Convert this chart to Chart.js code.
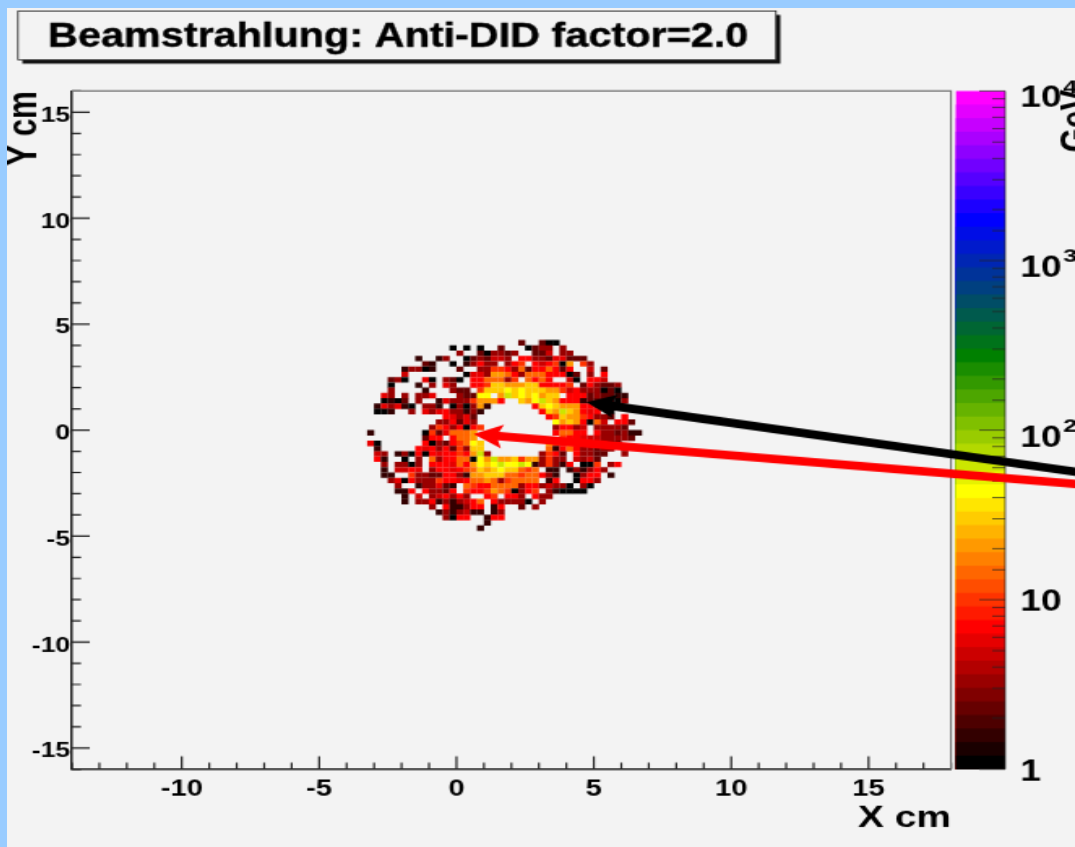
<!DOCTYPE html>
<html>
<head>
<meta charset="utf-8">
<script src="https://cdn.jsdelivr.net/npm/chart.js@4/dist/chart.umd.js"></script>
<style>
  html, body { margin: 0; padding: 0; background: #99ccff; overflow: hidden; }
  /* the source picture is a stretched screenshot, so the canvas is stretched too */
  #lego { position: absolute; left: 7px; top: 8px; width: 1068px !important; height: 839px !important; background: #f3f3f3; }
</style>
</head>
<body>
<canvas id="lego" width="658" height="671"></canvas>
<script>
  // 0.25 cm bins, one string per row from top to bottom, '.' is an empty bin
  const binSize = 0.25;
  const firstRow = 16;
  const firstCol = -13;
  const levelChars = '0123456789ABC';
  const levelValues = [1.05, 1.45, 2.3, 3.3, 4.6, 5.5, 6.9, 10, 14.5, 21, 29, 41, 68];
  const cellRows = [
    '......................2..200',
    '............0.0.0..2...0233.3',
    '.............3..203323..224.33',
    '.......1..13..0232443.6633255222',
    '........21..0.13633.367.646709.73',
    '.....13301...2..33776382668626..4.2',
    '.....4........05539986388866602.3.6',
    '...230..50.320.6688837.8686..40.664',
    '...0...1.3.53..667AA999AA66667.263223',
    '...3....1...322.7AAABABAAA99746333020',
    '..53.3.335...322BB.9CABAB9AA.666232211',
    '..0102.3..1533379996..A9BCA96661222103',
    '.153510.331.030391......6ABA999665432',
    '.001..3.535633131........6A9CA9656.0',
    '...........65352..........67A9976332.6',
    '..........336253...........B9A96084.662',
    '.........37636067..........36634.33332',
    '1.......07258889...........68866.6332311',
    '........266.6889............76654433332',
    '50......6032678BA.........97765433322',
    '.1.....65636273AA.........8168633233.3',
    '.43.130606566769C3.......3762.63322..3',
    '.61..0.3.8366880B9C99A7993733.4342',
    '..3.3303.6665869BABCBBCB137316.007.36',
    '..1.4465.3665678A9ABAA878.11.131363',
    '..11..73322663199AAA88788631..0366.1',
    '...3506333766568898378888.16..0663',
    '....3..133521.8766888836634330.30',
    '....116.63326.76679870367.310000',
    '.....1.4.346363..67.663.633',
    '.....1.3361313468.633330.3',
    '.........3.611366.16..2.3',
    '..........1313411.13',
    '...........3066..166',
    '.................1',
    '................1'
  ];

  const xRange = [-14, 18];
  const yRange = [-16, 16];
  const zRange = [1, 10000];
  const zPowers = [0, 1, 2, 3, 4];
  const zBands = 50;

  // ROOT rainbow palette: black, red, yellow, green, blue, magenta
  const paletteStops = [
    [0, 0, 0, 0], [10, 255, 0, 0], [20, 255, 255, 0],
    [30, 0, 128, 0], [40, 0, 0, 255], [49, 255, 0, 255]
  ];

  function corBanda(b) {
    let i = 0;
    while (i < paletteStops.length - 2 && b > paletteStops[i + 1][0]) i++;
    const p = paletteStops[i], q = paletteStops[i + 1];
    const t = Math.min(1, (b - p[0]) / (q[0] - p[0]));
    const c = [1, 2, 3].map(k => Math.round(p[k] + (q[k] - p[k]) * t));
    return 'rgb(' + c.join(',') + ')';
  }

  function corValor(v) {
    const b = Math.floor(Math.log10(v) / Math.log10(zRange[1]) * zBands);
    return corBanda(Math.max(0, Math.min(zBands - 1, b)));
  }

  // Monta os pontos a partir das linhas
  const cells = [];
  cellRows.forEach((row, i) => {
    Array.from(row).forEach((ch, j) => {
      if (ch === '.') return;
      cells.push({
        x: (firstCol + j + 0.5) * binSize,
        y: (firstRow - i + 0.5) * binSize,
        e: levelValues[levelChars.indexOf(ch)]
      });
    });
  });

  const FONT = '"Liberation Sans", Arimo, Helvetica, Arial, sans-serif';
  const INK = '#222';

  function desenhaSeta(ctx, x1, y1, x2, y2, color) {
    const a = Math.atan2(y2 - y1, x2 - x1);
    const len = Math.hypot(x2 - x1, y2 - y1);
    ctx.save();
    ctx.translate(x1, y1);
    ctx.rotate(a);
    ctx.fillStyle = color;
    ctx.beginPath();
    ctx.moveTo(0, 0);
    ctx.lineTo(18, -9.5);
    ctx.lineTo(15.5, -3.4);
    ctx.lineTo(len, -3.4);
    ctx.lineTo(len, 3.4);
    ctx.lineTo(15.5, 3.4);
    ctx.lineTo(18, 9.5);
    ctx.closePath();
    ctx.fill();
    ctx.restore();
  }

  const decoracao = {
    id: 'decoracao',
    afterDatasetsDraw(chart) {
      const { ctx, chartArea: area, scales } = chart;
      const { x, y, z } = scales;
      const barLeft = area.right + 3.1;
      const barRight = area.right + 33.4;

      // barra de cores, cada faixa pinta ate o fundo para nao deixar emenda
      for (let i = zBands - 1; i >= 0; i--) {
        const hi = Math.pow(10, (i + 1) * 4 / zBands);
        const top = z.getPixelForValue(hi);
        ctx.fillStyle = corBanda(i);
        ctx.fillRect(barLeft, top, barRight - barLeft, area.bottom - top);
      }

      ctx.strokeStyle = INK;
      ctx.lineWidth = 1.2;
      ctx.beginPath();
      x.ticks.forEach(t => {
        const px = x.getPixelForValue(t.value);
        ctx.moveTo(px, area.bottom);
        ctx.lineTo(px, area.bottom - (t.value % 5 === 0 ? 10.4 : 5.4));
      });
      y.ticks.forEach(t => {
        const py = y.getPixelForValue(t.value);
        ctx.moveTo(area.left, py);
        ctx.lineTo(area.left + (t.value % 5 === 0 ? 11 : 5.6), py);
      });
      ctx.stroke();

      ctx.lineWidth = 0.7;
      ctx.beginPath();
      z.ticks.forEach(t => {
        const py = z.getPixelForValue(t.value);
        const major = Number.isInteger(Math.log10(t.value));
        ctx.moveTo(barRight, py);
        ctx.lineTo(barRight - (major ? 16 : 8), py);
      });
      ctx.moveTo(barRight, area.top);
      ctx.lineTo(barRight, area.bottom);
      ctx.stroke();

      // moldura cinza em cima e na direita
      ctx.strokeStyle = '#777';
      ctx.lineWidth = 1.2;
      ctx.beginPath();
      ctx.moveTo(area.left, area.top);
      ctx.lineTo(area.right, area.top);
      ctx.lineTo(area.right, area.bottom);
      ctx.stroke();

      // etiquetas do eixo z
      ctx.fillStyle = '#000';
      ctx.textAlign = 'left';
      ctx.textBaseline = 'middle';
      zPowers.forEach(p => {
        const py = z.getPixelForValue(Math.pow(10, p));
        const dy = p >= 2 ? 6.6 : 2.4;
        ctx.font = 'bold 23px ' + FONT;
        const txt = p === 0 ? '1' : '10';
        ctx.fillText(txt, area.right + 42.6, py + dy);
        if (p >= 2) {
          const w = ctx.measureText(txt).width;
          ctx.font = 'bold 15.5px ' + FONT;
          ctx.fillText(String(p), area.right + 43.6 + w, py + dy - 9.6);
        }
      });

      // titulo do eixo z, cortado na borda como no original
      ctx.save();
      ctx.translate(666.7, area.top - 1);
      ctx.rotate(-Math.PI / 2);
      ctx.textAlign = 'right';
      ctx.textBaseline = 'alphabetic';
      ctx.font = 'bold 25px ' + FONT;
      ctx.fillText('GeV', 0, 0);
      ctx.restore();

      // setas
      desenhaSeta(ctx, x.getPixelForValue(4.73), y.getPixelForValue(1.32),
                  x.getPixelForValue(22.6), y.getPixelForValue(-1.98), '#000');
      desenhaSeta(ctx, x.getPixelForValue(0.62), y.getPixelForValue(-0.19),
                  x.getPixelForValue(22.6), y.getPixelForValue(-2.55), '#ff0000');

      // caixa do titulo
      ctx.fillStyle = '#111';
      ctx.fillRect(9.5, 5.5, 467, 39);
      ctx.fillStyle = '#f3f3f3';
      ctx.fillRect(6.8, 2.4, 467, 39);
      ctx.strokeStyle = INK;
      ctx.lineWidth = 0.8;
      ctx.strokeRect(6.8, 2.4, 467, 39);
      ctx.save();
      ctx.translate(25.3, 30.6);
      ctx.scale(1, 1.1);
      ctx.fillStyle = '#000';
      ctx.strokeStyle = '#000';
      ctx.lineWidth = 0.35;
      ctx.textAlign = 'left';
      ctx.textBaseline = 'alphabetic';
      ctx.font = 'bold 25.5px ' + FONT;
      ctx.fillText('Beamstrahlung: Anti-DID factor=2.0', 0, 0);
      ctx.strokeText('Beamstrahlung: Anti-DID factor=2.0', 0, 0);
      ctx.restore();
    }
  };

  document.addEventListener('DOMContentLoaded', () => {
    const ctx = document.getElementById('lego').getContext('2d');
    const semGrade = { display: false, drawTicks: false };

    new Chart(ctx, {
      type: 'scatter',
      data: {
        datasets: [{
          label: 'Beamstrahlung',
          data: cells,
          pointStyle: 'rect',
          pointBorderWidth: 0,
          pointHoverRadius: 3,
          pointBackgroundColor: c => c.raw ? corValor(c.raw.e) : '#000',
          // metade do bin, em pixels da escala
          pointRadius: c => {
            const sx = c.chart.scales.x;
            const half = Math.abs(sx.getPixelForValue(binSize) - sx.getPixelForValue(0)) / 2;
            return (half + 0.08) / Math.SQRT1_2;
          }
        }]
      },
      options: {
        responsive: false,
        animation: false,
        devicePixelRatio: 1,
        layout: { padding: { top: 66.4, left: 0, right: 0, bottom: 0 } },
        plugins: { legend: { display: false }, tooltip: { enabled: false }, title: { display: false } },
        scales: {
          x: {
            type: 'linear',
            min: xRange[0],
            max: xRange[1],
            afterFit: s => { s.height = 62.2; },
            grid: semGrade,
            border: { color: INK, width: 1.5 },
            ticks: {
              stepSize: 1,
              autoSkip: false,
              maxRotation: 0,
              padding: 5,
              color: '#000',
              font: { family: FONT, weight: 'bold', size: 18 },
              callback: v => (v % 5 === 0 ? String(v) : '')
            },
            title: {
              display: true,
              text: 'X cm',
              align: 'end',
              color: '#000',
              padding: { top: 0, bottom: 8 },
              font: { family: FONT, weight: 'bold', size: 24 }
            }
          },
          y: {
            type: 'linear',
            min: yRange[0],
            max: yRange[1],
            afterFit: s => { s.width = 40; },
            grid: semGrade,
            border: { color: INK, width: 1.5 },
            ticks: {
              stepSize: 1,
              autoSkip: false,
              padding: 1,
              labelOffset: 3,
              color: '#000',
              font: { family: FONT, weight: 'bold', size: 16.5 },
              callback: v => (v % 5 === 0 ? String(v) : '')
            },
            title: {
              display: true,
              text: 'Y cm',
              align: 'end',
              color: '#000',
              padding: { top: -1, bottom: 0 },
              font: { family: FONT, weight: 'bold', size: 25, lineHeight: 1 }
            }
          },
          z: {
            type: 'logarithmic',
            axis: 'y',
            position: 'right',
            min: zRange[0],
            max: zRange[1],
            afterFit: s => { s.width = 76.4; },
            grid: semGrade,
            border: { display: false },
            ticks: { display: true, autoSkip: false, color: 'rgba(0,0,0,0)', callback: () => '' }
          }
        }
      },
      plugins: [decoracao]
    });
  });
</script>
</body>
</html>
